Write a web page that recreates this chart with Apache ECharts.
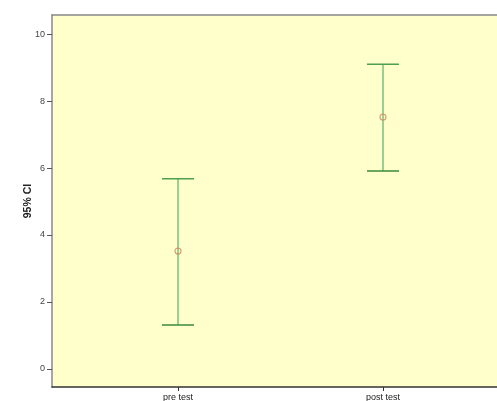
<!DOCTYPE html>
<html>
<head>
<meta charset="utf-8">
<script src="https://cdn.jsdelivr.net/npm/echarts@6/dist/echarts.min.js"></script>
<style>html,body{margin:0;padding:0;background:#fff;}#c{width:497px;height:401px;}</style>
</head>
<body>
<div id="c"></div>
<script>
var categories = ['pre test', 'post test'];
var means = [3.52, 7.52];
var lower = [1.31, 5.91];
var upper = [5.68, 9.10];
var yTicks = [0, 2, 4, 6, 8, 10];

var chart = echarts.init(document.getElementById('c'));
var barData = categories.map(function (c, i) { return [i + 1, lower[i], upper[i]]; });
var meanData = categories.map(function (c, i) { return [i + 1, means[i]]; });

chart.setOption({
  animation: false,
  grid: { left: 52, top: 15, right: 0, bottom: 14, show: true, backgroundColor: '#ffffcc', borderWidth: 0, outerBoundsMode: 'none', containLabel: false },
  xAxis: [{
    type: 'value', min: 0.3854, max: 2.556,
    axisLine: { show: true, onZero: false, lineStyle: { color: '#333', width: 1.5 } },
    axisTick: { show: true, inside: false, length: 4, customValues: [1, 2], lineStyle: { color: '#333' } },
    axisLabel: { customValues: [1, 2], margin: 6, fontSize: 9, color: '#222', fontFamily: 'Liberation Sans, Arial, sans-serif',
      formatter: function (v) { return categories[Math.round(v) - 1] || ''; } },
    splitLine: { show: false }
  }, {
    type: 'value', position: 'top', min: 0.3854, max: 2.556,
    axisLine: { show: true, onZero: false, lineStyle: { color: '#888', width: 1.5 } },
    axisTick: { show: false }, axisLabel: { show: false }, splitLine: { show: false }
  }],
  yAxis: {
    type: 'value', min: -0.54, max: 10.57,
    name: '95% CI', nameLocation: 'middle', nameRotate: 90, nameGap: 18, nameMoveOverlap: false,
    nameTextStyle: { fontSize: 10.5, fontWeight: 'bold', color: '#222', fontFamily: 'Liberation Sans, Arial, sans-serif' },
    axisLine: { show: true, onZero: false, lineStyle: { color: '#888', width: 1.5 } },
    axisTick: { show: true, inside: false, length: 5, customValues: yTicks, lineStyle: { color: '#555' } },
    axisLabel: { customValues: yTicks, margin: 7, fontSize: 9, color: '#444', fontFamily: 'Liberation Sans, Arial, sans-serif' },
    splitLine: { show: false }
  },
  series: [{
    type: 'custom',
    data: barData,
    renderItem: function (params, api) {
      var x = api.value(0);
      var lo = api.coord([x, api.value(1)]);
      var hi = api.coord([x, api.value(2)]);
      var half = 16;
      return {
        type: 'group',
        children: [
          { type: 'line', shape: { x1: lo[0], y1: lo[1], x2: hi[0], y2: hi[1] }, style: { stroke: '#7cbf7c', lineWidth: 1.5 } },
          { type: 'line', shape: { x1: hi[0] - half, y1: hi[1], x2: hi[0] + half, y2: hi[1] }, style: { stroke: '#4f9f4f', lineWidth: 1.5 } },
          { type: 'line', shape: { x1: lo[0] - half, y1: lo[1], x2: lo[0] + half, y2: lo[1] }, style: { stroke: '#3a8a3a', lineWidth: 1.5 } }
        ]
      };
    }
  }, {
    type: 'scatter',
    data: meanData,
    symbol: 'circle', symbolSize: 6,
    itemStyle: { color: 'rgba(0,0,0,0)', borderColor: '#d08a60', borderWidth: 1.2 },
    z: 5
  }]
});
</script>
</body>
</html>
